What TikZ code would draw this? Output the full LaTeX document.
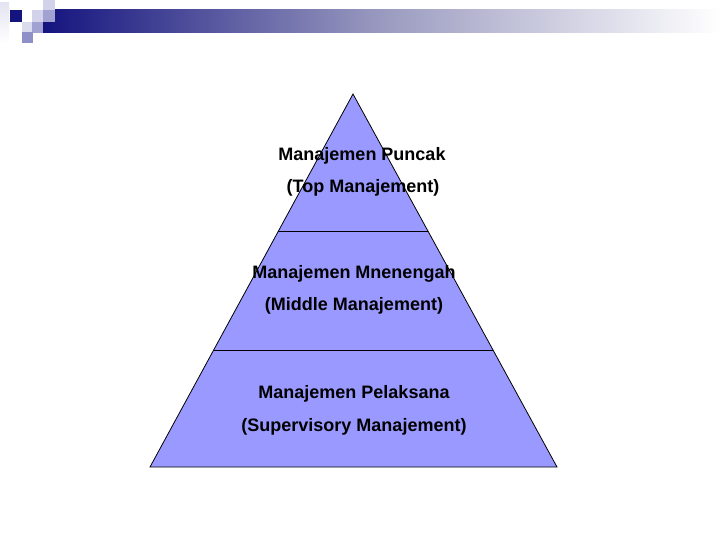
\documentclass[tikz,border=0pt]{standalone}
\usepackage{fontspec}
\setmainfont{Liberation Sans}
\usetikzlibrary{calc}
\definecolor{pyr}{HTML}{9999FF}
\definecolor{navy}{HTML}{14147F}
\definecolor{lav1}{HTML}{D2D2EA}
\definecolor{lav2}{HTML}{A2A2D2}
\definecolor{lav3}{HTML}{9090C8}
\definecolor{barmid}{HTML}{9A9AC0}
\tikzset{
  lbl/.style={font=\bfseries\fontsize{18}{20}\selectfont, inner sep=0pt, anchor=base},
  sq/.style={draw=none}
}
\begin{document}
\begin{tikzpicture}[x=1pt,y=-1pt]
\useasboundingbox (0,0) rectangle (720,540);
\fill[white] (0,0) rectangle (720,540);
% header decoration
\shade[left color=navy, right color=white, middle color=barmid, draw=none] (43,10) rectangle (720,33);
\shade[top color=lav1!60!white, bottom color=white, draw=none] (0,3) rectangle (9,43);
\fill[navy] (10,10) rectangle (22,22);
\fill[lav1] (43,0) rectangle (55,10);
\fill[lav1] (32,10) rectangle (43,22);
\fill[lav2] (43,10) rectangle (55,22);
\fill[lav2] (32,22) rectangle (43,33);
\fill[lav1!80!white] (22,22) rectangle (32,32);
\fill[lav3] (22,32) rectangle (33,43);
% pyramid
\coordinate (apex) at (353,94);
\coordinate (bl) at (150,467);
\coordinate (br) at (557,467);
\draw[fill=pyr, line width=0.8pt, line join=miter] (apex) -- (br) -- (bl) -- cycle;
\coordinate (l1) at ($(apex)!0.3673!(bl)$);
\coordinate (r1) at ($(apex)!0.3673!(br)$);
\coordinate (l2) at ($(apex)!0.6863!(bl)$);
\coordinate (r2) at ($(apex)!0.6863!(br)$);
\draw[line width=0.8pt] (l1) -- (r1);
\draw[line width=0.8pt] (l2) -- (r2);
% labels
\node[lbl] (t1) at (362,161) {Manajemen Puncak};
\node[lbl] (t2) at (363,193) {(Top Manajement)};
\node[lbl] (m1) at (354,278) {Manajemen Mnenengah};
\node[lbl] (m2) at (354,310) {(Middle Manajement)};
\node[lbl] (b1) at (354,398) {Manajemen Pelaksana};
\node[lbl] (b2) at (354,431) {(Supervisory Manajement)};
\end{tikzpicture}
\end{document}
